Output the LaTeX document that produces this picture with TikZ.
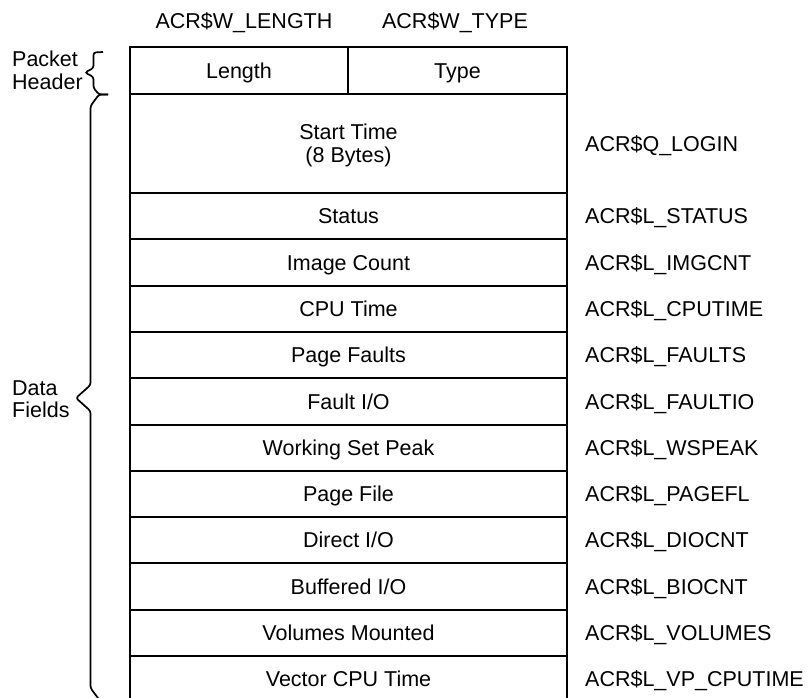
\documentclass[tikz,border=0pt]{standalone}
\usepackage{fontspec}
\setmainfont{Liberation Sans}
\begin{document}
\begin{tikzpicture}[x=1pt,y=-1pt,
  every node/.style={font=\fontsize{21.5}{23}\selectfont, inner sep=0pt},
  cell/.style={draw, line width=2pt, text height=15.4pt, text depth=0pt, minimum width=437pt, minimum height=46.3pt},
  lbl/.style={text height=15.4pt, text depth=0pt},
  field/.style={lbl, anchor=west},
  brace/.style={line width=1.7pt, rounded corners=2.5pt}]
\useasboundingbox (0,0) rectangle (809,698);
% top labels
\node[lbl] (wlen) at (244,21) {ACR\$W\_LENGTH};
\node[lbl] (wtype) at (455,21) {ACR\$W\_TYPE};
% header
\node[cell, minimum width=218pt, minimum height=47pt] (length) at (239,70.5) {Length};
\node[cell, minimum width=219pt, minimum height=47pt] (type) at (457.5,70.5) {Type};
% start time
\node[cell, minimum height=99pt] (start) at (348.5,143.5) {};
\node[anchor=base] (st1) at (348.5,139.7) {Start Time};
\node[anchor=base] (st2) at (348.5,162.7) {(8 Bytes)};
\node[field] (login) at (585,143.5) {ACR\$Q\_LOGIN};
% rows
\node[cell] (status) at (348.5,216.15) {Status};
\node[cell] (imgcnt) at (348.5,262.45) {Image Count};
\node[cell] (cputime) at (348.5,308.75) {CPU Time};
\node[cell] (faults) at (348.5,355.05) {Page Faults};
\node[cell] (faultio) at (348.5,401.35) {Fault I/O};
\node[cell] (wspeak) at (348.5,447.65) {Working Set Peak};
\node[cell] (pagefl) at (348.5,493.95) {Page File};
\node[cell] (dio) at (348.5,540.25) {Direct I/O};
\node[cell] (bio) at (348.5,586.55) {Buffered I/O};
\node[cell] (volumes) at (348.5,632.85) {Volumes Mounted};
\node[cell] (vpcpu) at (348.5,679.15) {Vector CPU Time};
% field names
\node[field] (lstatus) at (585,216.15) {ACR\$L\_STATUS};
\node[field] (limgcnt) at (585,262.45) {ACR\$L\_IMGCNT};
\node[field] (lcputime) at (585,308.75) {ACR\$L\_CPUTIME};
\node[field] (lfaults) at (585,355.05) {ACR\$L\_FAULTS};
\node[field] (lfaultio) at (585,401.35) {ACR\$L\_FAULTIO};
\node[field] (lwspeak) at (585,447.65) {ACR\$L\_WSPEAK};
\node[field] (lpagefl) at (585,493.95) {ACR\$L\_PAGEFL};
\node[field] (ldio) at (585,540.25) {ACR\$L\_DIOCNT};
\node[field] (lbio) at (585,586.55) {ACR\$L\_BIOCNT};
\node[field] (lvolumes) at (585,632.85) {ACR\$L\_VOLUMES};
\node[field] (lvpcpu) at (585,679.15) {ACR\$L\_VP\_CPUTIME};
% left labels
\node[anchor=base west] (packet) at (12,67) {Packet};
\node[anchor=base west] (header) at (12,90) {Header};
\node[anchor=base west] (data) at (12,395) {Data};
\node[anchor=base west] (fields) at (12,417) {Fields};
% braces
\draw[brace] (103,52) -- (93.5,52.5) -- (93.5,68) -- (85,72.5) -- (93.5,77) -- (93.5,88) -- (99,94.5) -- (108,94.5);
\draw[brace] (108,94.5) -- (99,94.5) -- (90.5,106) -- (90.5,385) -- (76,398) -- (90.5,411) -- (90.5,688) -- (101,702);
\end{tikzpicture}
\end{document}
